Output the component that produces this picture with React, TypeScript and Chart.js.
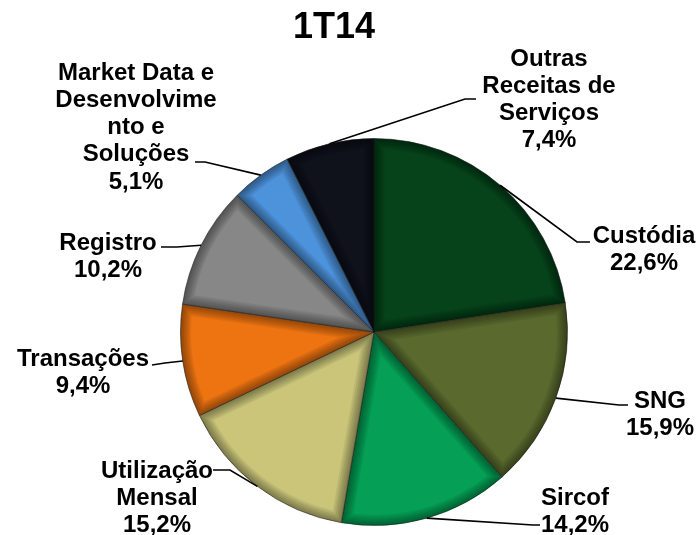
import React, { useEffect, useRef } from "react";
import { Chart, registerables } from "chart.js";

Chart.register(...registerables);

const chartTitle = "1T14";
const categories: string[][] = [
  ["Custódia"],
  ["SNG"],
  ["Sircof"],
  ["Utilização", "Mensal"],
  ["Transações"],
  ["Registro"],
  ["Market Data e", "Desenvolvime", "nto e", "Soluções"],
  ["Outras", "Receitas de", "Serviços"],
];
const shares: number[] = [22.6, 15.9, 14.2, 15.2, 9.4, 10.2, 5.1, 7.4];
const sliceColors: string[] = [
  "#06431a",
  "#5a6a2e",
  "#05a055",
  "#cbc57a",
  "#ee7412",
  "#878787",
  "#4d93dc",
  "#0f121b",
];

// label layout: leader elbow, leader end, label centre x, first line centre y
const labelLayout = [
  { elbow: [577, 242], end: [590, 242], cx: 644, cy: 235 },
  { elbow: [619, 405], end: [628, 405], cx: 660, cy: 400 },
  { elbow: [533, 525], end: [540, 525], cx: 575, cy: 497 },
  { elbow: [230, 470], end: [213, 470], cx: 157, cy: 470 },
  { elbow: [165, 363], end: [152, 365], cx: 83, cy: 358 },
  { elbow: [177, 247], end: [161, 247], cx: 108, cy: 242 },
  { elbow: [205, 162], end: [195, 162], cx: 136, cy: 72 },
  { elbow: [465, 99], end: [476, 99], cx: 549, cy: 58 },
];

const fmt = (v: number) => v.toFixed(1).replace(".", ",") + "%";

const bevelPlugin = {
  id: "bevel",
  afterDatasetsDraw(chart: any) {
    const ctx = chart.ctx;
    const meta = chart.getDatasetMeta(0);
    meta.data.forEach((arc: any) => {
      const { x, y, startAngle, endAngle, outerRadius } = arc.getProps(
        ["x", "y", "startAngle", "endAngle", "outerRadius"],
        true
      );
      ctx.save();
      ctx.beginPath();
      ctx.moveTo(x, y);
      ctx.arc(x, y, outerRadius, startAngle, endAngle);
      ctx.closePath();
      ctx.clip();
      for (let i = 0; i < 6; i++) {
        ctx.lineWidth = (6 - i) * 3.5;
        ctx.strokeStyle = "rgba(0,0,0,0.07)";
        ctx.stroke();
      }
      ctx.restore();
    });
  },
};

const labelPlugin = {
  id: "pieLabels",
  afterDraw(chart: any) {
    const ctx = chart.ctx;
    const meta = chart.getDatasetMeta(0);
    ctx.save();
    ctx.fillStyle = "#000";
    ctx.font = "bold 36px 'Liberation Sans', Arial, sans-serif";
    ctx.textAlign = "center";
    ctx.textBaseline = "alphabetic";
    ctx.fillText(chartTitle, 334, 38);

    ctx.font = "bold 24px 'Liberation Sans', Arial, sans-serif";
    meta.data.forEach((arc: any, i: number) => {
      const { x, y, startAngle, endAngle, outerRadius } = arc.getProps(
        ["x", "y", "startAngle", "endAngle", "outerRadius"],
        true
      );
      const mid = (startAngle + endAngle) / 2;
      const sx = x + Math.cos(mid) * outerRadius;
      const sy = y + Math.sin(mid) * outerRadius;
      const lay = labelLayout[i];
      ctx.beginPath();
      ctx.moveTo(sx, sy);
      ctx.lineTo(lay.elbow[0], lay.elbow[1]);
      ctx.lineTo(lay.end[0], lay.end[1]);
      ctx.lineWidth = 1.6;
      ctx.strokeStyle = "#000";
      ctx.stroke();
      const lines = [...categories[i], fmt(shares[i])];
      lines.forEach((t, k) => {
        ctx.fillText(t, lay.cx, lay.cy + 7.5 + k * 27.3);
      });
    });
    ctx.restore();
  },
};

export default function App() {
  const ref = useRef<HTMLCanvasElement>(null);
  useEffect(() => {
    document.body.style.margin = "0";
    const chart = new Chart(ref.current!, {
      type: "pie",
      data: {
        labels: categories.map((c) => c.join(" ")),
        datasets: [
          {
            data: shares,
            backgroundColor: sliceColors,
            borderColor: "rgba(40,40,40,0.55)",
            borderWidth: 1,
          },
        ],
      },
      options: {
        animation: false,
        responsive: false,
        layout: { padding: { left: 180, right: 131, top: 138, bottom: 9 } },
        plugins: {
          legend: { display: false },
          tooltip: { enabled: false },
          title: { display: false },
        },
      },
      plugins: [bevelPlugin, labelPlugin],
    });
    return () => chart.destroy();
  }, []);
  return (
    <div style={{ width: 699, height: 535, background: "#fff" }}>
      <canvas ref={ref} width={699} height={535} style={{ display: "block" }} />
    </div>
  );
}
